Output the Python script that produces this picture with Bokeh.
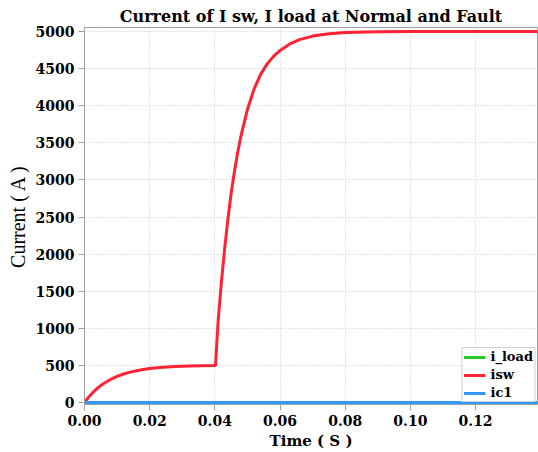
from bokeh.plotting import figure
from bokeh.models import Range1d, FixedTicker, NumeralTickFormatter, Legend, LegendItem
from bokeh.embed import file_html
from bokeh.resources import INLINE

# ---- data ----
time_s = [0.0, 0.001, 0.002, 0.003, 0.004, 0.005, 0.006, 0.008, 0.010, 0.012,
          0.014, 0.016, 0.018, 0.020, 0.024, 0.028, 0.032, 0.036, 0.0402,
          0.041, 0.042, 0.043, 0.044, 0.045, 0.046, 0.047, 0.048, 0.050,
          0.052, 0.054, 0.056, 0.058, 0.060, 0.063, 0.066, 0.070, 0.075,
          0.080, 0.090, 0.100, 0.115, 0.139]
isw = [0, 57, 108, 153, 193, 228, 259, 311, 352, 384,
       409, 429, 444, 458, 474, 485, 491, 495, 498,
       1100, 1620, 2070, 2470, 2820, 3110, 3370, 3590, 3950,
       4220, 4420, 4560, 4665, 4745, 4832, 4890, 4938, 4970,
       4986, 4996, 4999, 5000, 5000]
time_flat = [0.0, 0.139]
i_load = [0, 0]
ic1 = [0, 0]

y_ticks = [0, 500, 1000, 1500, 2000, 2500, 3000, 3500, 4000, 4500, 5000]
x_ticks = [0.0, 0.02, 0.04, 0.06, 0.08, 0.10, 0.12]

BOLD_FONT = "DejaVu Serif"
SERIF = "Liberation Serif"

p = figure(width=538, height=452, output_backend="svg", toolbar_location=None,
           x_range=Range1d(0, 0.139), y_range=Range1d(-27, 5054),
           min_border_left=84, min_border_right=1, min_border_top=27,
           min_border_bottom=46)

p.title.text = "Current of I sw, I load at Normal and Fault"
p.title.text_font = BOLD_FONT
p.title.text_font_style = "bold"
p.title.text_font_size = "16px"
p.title.text_color = "black"
p.title.align = "center"
p.title.offset = 0
p.title.standoff = 3

r_load = p.line(time_flat, i_load, line_color="#22cc22", line_width=3)
r_sw = p.line(time_s, isw, line_color="#ff2233", line_width=3)
r_c1 = p.line(time_flat, ic1, line_color="#3399ff", line_width=3)

legend = Legend(items=[LegendItem(label="i_load", renderers=[r_load]),
                       LegendItem(label="isw", renderers=[r_sw]),
                       LegendItem(label="ic1", renderers=[r_c1])],
                location="bottom_right")
legend.label_text_font = BOLD_FONT
legend.label_text_font_style = "bold"
legend.label_text_font_size = "13px"
legend.label_text_color = "black"
legend.label_height = 14
legend.glyph_height = 14
legend.glyph_width = 22
legend.spacing = 3
legend.padding = 1
legend.margin = 2
legend.label_standoff = 5
legend.border_line_color = "#a0a0a0"
legend.border_line_width = 1
legend.background_fill_alpha = 1.0
p.add_layout(legend)

p.xaxis.ticker = FixedTicker(ticks=x_ticks)
p.xaxis.formatter = NumeralTickFormatter(format="0.00")
p.yaxis.ticker = FixedTicker(ticks=y_ticks)

for ax in (p.xaxis, p.yaxis):
    ax.axis_line_color = "#a0a0a0"
    ax.major_tick_line_color = "#a0a0a0"
    ax.major_tick_out = 6
    ax.major_tick_in = 0
    ax.minor_tick_line_color = None
    ax.major_label_text_font = BOLD_FONT
    ax.major_label_text_font_style = "bold"
    ax.major_label_text_font_size = "14px"
    ax.major_label_text_color = "black"
    ax.axis_label_text_color = "black"

p.xaxis.axis_label = "Time ( S )"
p.xaxis.axis_label_text_font = BOLD_FONT
p.xaxis.axis_label_text_font_style = "bold"
p.xaxis.axis_label_text_font_size = "15px"
p.xaxis.axis_label_standoff = 3
p.xaxis.major_label_standoff = 4

p.yaxis.axis_label = "Current ( A )"
p.yaxis.axis_label_text_font = SERIF
p.yaxis.axis_label_text_font_style = "normal"
p.yaxis.axis_label_text_font_size = "20px"
p.yaxis.axis_label_standoff = 4
p.yaxis.major_label_standoff = 4

p.xgrid.grid_line_color = "#c8c8c8"
p.ygrid.grid_line_color = "#c8c8c8"
p.xgrid.grid_line_dash = "1 2"
p.ygrid.grid_line_dash = "1 2"

p.outline_line_color = "#a0a0a0"
p.background_fill_color = "white"
p.border_fill_color = "white"

open("out.html", "w").write(file_html(p, INLINE))
